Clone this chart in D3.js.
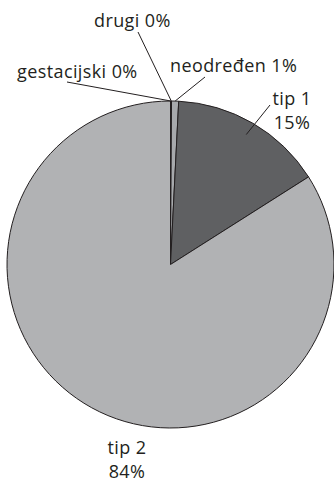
<!DOCTYPE html>
<html>
<head>
<meta charset="utf-8">
<script src="https://cdn.jsdelivr.net/npm/d3@7"></script>
<style>
  html, body { margin: 0; padding: 0; background: #fff; }
  svg { display: block; }
  text { font-family: "Open Sans", "Liberation Sans", sans-serif; font-size: 18px; letter-spacing: 0.4px; fill: #231f20; }
</style>
</head>
<body>
<svg id="chart" width="334" height="482"></svg>
<script>
// Distribution of diabetes types (share of patients)
const categories = ["gestacijski", "drugi", "neodređen", "tip 1", "tip 2"];
const values = [0.05, 0.05, 0.7, 15.2, 84.0];
const colors = ["#a7a9ac", "#a7a9ac", "#a7a9ac", "#5f6062", "#b1b2b4"];

// Label layout: anchor point of the text block, line split, leader line start and how deep it reaches
const labelLayout = {
  "gestacijski": { x: 17, y: 78, anchor: "start", twoLines: false, leader: [67, 82], depth: 1.0 },
  "drugi":       { x: 94, y: 27, anchor: "start", twoLines: false, leader: [138, 32], depth: 1.0 },
  "neodređen":   { x: 170, y: 72, anchor: "start", twoLines: false, leader: [205, 77], depth: 1.0 },
  "tip 1":       { x: 292, y: 105, anchor: "middle", twoLines: true, leader: [270, 105], depth: 0.92 },
  "tip 2":       { x: 127, y: 454, anchor: "middle", twoLines: true, leader: null, depth: 1.0 }
};

const svg = d3.select("#chart");
const cx = 170.5, cy = 264.5, R = 163.5;

const data = categories.map((c, i) => ({ name: c, value: values[i], color: colors[i] }));
const total = d3.sum(values);

const pie = d3.pie().sort(null).value(d => d.value).startAngle(0).endAngle(2 * Math.PI);
const arcs = pie(data);
const arc = d3.arc().innerRadius(0).outerRadius(R);

const g = svg.append("g").attr("transform", `translate(${cx},${cy})`);

g.selectAll("path.slice")
  .data(arcs)
  .join("path")
  .attr("class", "slice")
  .attr("d", arc)
  .attr("fill", d => d.data.color)
  .attr("stroke", "#231f20")
  .attr("stroke-width", 1)
  .attr("stroke-linejoin", "round");

// Leader lines from labels to the slices
arcs.forEach(a => {
  const lay = labelLayout[a.data.name];
  if (!lay.leader) return;
  const mid = (a.startAngle + a.endAngle) / 2;
  const r = R * lay.depth;
  const ex = cx + r * Math.sin(mid);
  const ey = cy - r * Math.cos(mid);
  svg.append("line")
    .attr("x1", lay.leader[0]).attr("y1", lay.leader[1])
    .attr("x2", ex).attr("y2", ey)
    .attr("stroke", "#231f20")
    .attr("stroke-width", 1);
});

// Category labels with rounded percentages
arcs.forEach(a => {
  const lay = labelLayout[a.data.name];
  const pct = Math.round(a.data.value / total * 100) + "%";
  const t = svg.append("text")
    .attr("x", lay.x).attr("y", lay.y)
    .attr("text-anchor", lay.anchor);
  if (lay.twoLines) {
    t.append("tspan").attr("x", lay.x).text(a.data.name);
    t.append("tspan").attr("x", lay.x).attr("dy", 24).text(pct);
  } else {
    t.text(a.data.name + " " + pct);
  }
});
</script>
</body>
</html>
